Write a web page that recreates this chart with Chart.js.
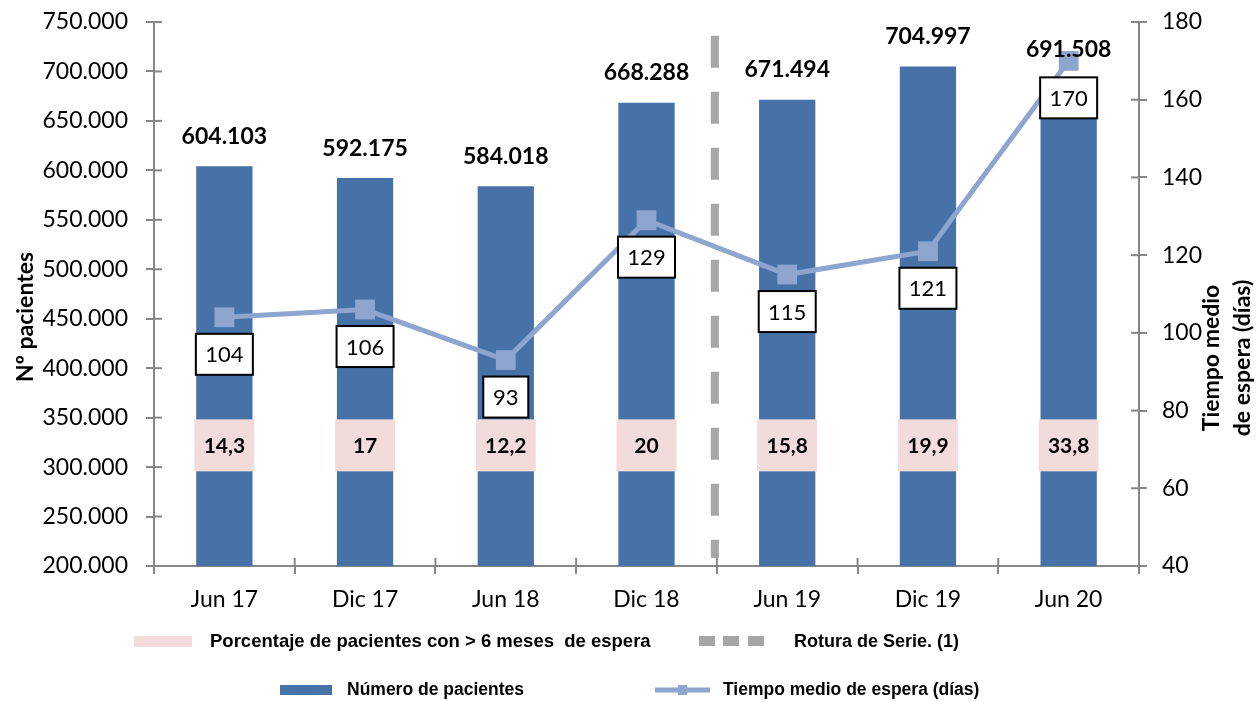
<!DOCTYPE html>
<html><head><meta charset="utf-8">
<script src="https://cdn.jsdelivr.net/npm/chart.js@4.4.1/dist/chart.umd.min.js"></script>
<style>html,body{margin:0;padding:0;background:#fff}#wrap{width:1259px;height:702px;position:relative}</style>
</head><body><div id="wrap"><canvas id="c" width="1259" height="702"></canvas></div>
<script>
// ---- data ----
const categories = ['Jun 17','Dic 17','Jun 18','Dic 18','Jun 19','Dic 19','Jun 20'];
const numeroPacientes = [604103, 592175, 584018, 668288, 671494, 704997, 691508];
const tiempoMedio = [104, 106, 93, 129, 115, 121, 170];
const porcentajeMas6Meses = ['14,3', '17', '12,2', '20', '15,8', '19,9', '33,8'];
const leftAxis = {min: 200000, max: 750000, step: 50000};
const rightAxis = {min: 40, max: 180, step: 20};
const roturaEntre = ['Dic 18', 'Jun 19'];
const legendTexts = {
  pct: 'Porcentaje de pacientes con > 6 meses  de espera',
  rotura: 'Rotura de Serie. (1)',
  num: 'Número de pacientes',
  tiempo: 'Tiempo medio de espera (días)'
};
const titles = {left: 'Nº pacientes', right: ['Tiempo medio', 'de espera (días)']};

// ---- styles ----
const BAR = '#4672A8', LINE = '#8DA5CF', PINK = '#F2DCDB', AXIS = '#868686', DASH = '#A6A6A6';
const FONT = 'Lato';
const fmt = v => String(Math.round(v)).replace(/\B(?=(\d{3})+(?!\d))/g, '.');

Chart.defaults.font.family = FONT;
Chart.defaults.color = '#000';

const overlay = {
  id: 'overlay',
  beforeDatasetsDraw(chart) {
    const {ctx} = chart, x = chart.scales.x, y = chart.scales.y;
    const i0 = categories.indexOf(roturaEntre[0]), i1 = categories.indexOf(roturaEntre[1]);
    const px = (x.getPixelForValue(i0) + x.getPixelForValue(i1)) / 2 - 2;
    ctx.save();
    ctx.strokeStyle = DASH; ctx.lineWidth = 8; ctx.setLineDash([32, 24]);
    ctx.beginPath(); ctx.moveTo(px, y.getPixelForValue(736000)); ctx.lineTo(px, y.getPixelForValue(208000)); ctx.stroke();
    ctx.restore();
  },
  afterDatasetsDraw(chart) {
    const {ctx, chartArea} = chart, x = chart.scales.x, y = chart.scales.y, y1 = chart.scales.y1;
    ctx.save();
    // inner tick halves
    ctx.strokeStyle = AXIS; ctx.lineWidth = 2; ctx.setLineDash([]);
    y.ticks.forEach((t, i) => { const p = y.getPixelForTick(i); ctx.beginPath(); ctx.moveTo(chartArea.left, p); ctx.lineTo(chartArea.left + 8, p); ctx.stroke(); });
    y1.ticks.forEach((t, i) => { const p = y1.getPixelForTick(i); ctx.beginPath(); ctx.moveTo(chartArea.right, p); ctx.lineTo(chartArea.right - 8, p); ctx.stroke(); });
    const bw = (chartArea.right - chartArea.left) / categories.length;
    for (let i = 0; i <= categories.length; i++) {
      const p = chartArea.left + i * bw;
      ctx.beginPath(); ctx.moveTo(p, chartArea.bottom); ctx.lineTo(p, chartArea.bottom - 8); ctx.stroke();
    }
    const barMeta = chart.getDatasetMeta(0), lineMeta = chart.getDatasetMeta(1);
    // percentage boxes
    ctx.textAlign = 'center'; ctx.textBaseline = 'middle';
    barMeta.data.forEach((b, i) => {
      const cy = y.getPixelForValue(322000);
      ctx.fillStyle = PINK; ctx.fillRect(b.x - 30, cy - 26, 60, 52);
      ctx.fillStyle = '#000'; ctx.font = 'bold 21px ' + FONT;
      ctx.fillText(porcentajeMas6Meses[i], b.x, cy + 1);
    });
    // bar value labels
    ctx.font = 'bold 23px ' + FONT;
    barMeta.data.forEach((b, i) => { ctx.fillStyle = '#000'; ctx.fillText(fmt(numeroPacientes[i]), b.x, b.y - 30); });
    // line value boxes
    ctx.font = '22px ' + FONT;
    lineMeta.data.forEach((p, i) => {
      const txt = String(tiempoMedio[i]);
      const w = Math.round(ctx.measureText(txt).width + 19), h = 41, cy = p.y + 37;
      ctx.fillStyle = '#fff'; ctx.fillRect(p.x - w / 2, cy - h / 2, w, h);
      ctx.strokeStyle = '#000'; ctx.lineWidth = 2; ctx.strokeRect(p.x - w / 2, cy - h / 2, w, h);
      ctx.fillStyle = '#000'; ctx.fillText(txt, p.x, cy + 1);
    });
    ctx.restore();
  },
  afterDraw(chart) {
    const {ctx} = chart;
    ctx.save();
    // axis titles
    ctx.fillStyle = '#000'; ctx.textAlign = 'center'; ctx.textBaseline = 'middle';
    ctx.font = 'bold 23px ' + FONT;
    ctx.save(); ctx.translate(26, 317); ctx.rotate(-Math.PI / 2); ctx.fillText(titles.left, 0, 0); ctx.restore();
    ctx.save(); ctx.translate(1212, 358); ctx.rotate(-Math.PI / 2); ctx.fillText(titles.right[0], 0, 0); ctx.restore();
    ctx.save(); ctx.translate(1243, 358); ctx.rotate(-Math.PI / 2); ctx.fillText(titles.right[1], 0, 0); ctx.restore();
    // legend
    ctx.textAlign = 'left';
    const r1 = 642, r2 = 690;
    ctx.font = 'bold 18.5px "Liberation Sans"';
    ctx.fillStyle = PINK; ctx.fillRect(134, r1 - 6, 58, 11);
    ctx.fillStyle = '#000'; ctx.fillText(legendTexts.pct, 210, r1);
    ctx.fillStyle = DASH; [699, 723, 748].forEach(sx => ctx.fillRect(sx, r1 - 6, 16, 10));
    ctx.font = 'bold 18px "Liberation Sans"';
    ctx.fillStyle = '#000'; ctx.fillText(legendTexts.rotura, 794, r1);
    ctx.font = 'bold 17.5px "Liberation Sans"';
    ctx.fillStyle = BAR; ctx.fillRect(280, r2 - 5, 52, 10);
    ctx.fillStyle = '#000'; ctx.fillText(legendTexts.num, 347, r2);
    ctx.strokeStyle = LINE; ctx.lineWidth = 5; ctx.beginPath(); ctx.moveTo(655, r2); ctx.lineTo(710, r2); ctx.stroke();
    ctx.fillStyle = LINE; ctx.fillRect(678, r2 - 5, 9, 10);
    ctx.fillStyle = '#000'; ctx.fillText(legendTexts.tiempo, 723, r2);
    ctx.restore();
  }
};

const fitY = w => s => { s.width = w; s.paddingTop = 0; s.paddingBottom = 0; };

new Chart(document.getElementById('c'), {
  data: {
    labels: categories,
    datasets: [
      {type: 'bar', label: legendTexts.num, data: numeroPacientes, backgroundColor: BAR, yAxisID: 'y', order: 2,
       barPercentage: 0.4, categoryPercentage: 1},
      {type: 'line', label: legendTexts.tiempo, data: tiempoMedio, borderColor: LINE, backgroundColor: LINE,
       borderWidth: 5, pointStyle: 'rect', pointRadius: 14, pointHoverRadius: 14, pointBorderWidth: 0,
       yAxisID: 'y1', order: 1, tension: 0}
    ]
  },
  options: {
    responsive: false, animation: false, devicePixelRatio: 1,
    layout: {padding: {top: 22, left: 0, right: 0, bottom: 0}},
    plugins: {legend: {display: false}, tooltip: {enabled: false}},
    scales: {
      x: {offset: true,
          grid: {offset: true, drawOnChartArea: false, tickLength: 8, color: AXIS, lineWidth: 2},
          border: {color: AXIS, width: 2},
          ticks: {font: {size: 23}, color: '#000', padding: 12},
          afterFit: s => { s.height = 136; s.paddingLeft = 0; s.paddingRight = 0; }},
      y: {position: 'left', min: leftAxis.min, max: leftAxis.max,
          grid: {drawOnChartArea: false, tickLength: 8, color: AXIS, lineWidth: 2},
          border: {color: AXIS, width: 2},
          ticks: {stepSize: leftAxis.step, font: {size: 23}, color: '#000', padding: 18, callback: v => fmt(v)},
          afterFit: fitY(154)},
      y1: {position: 'right', min: rightAxis.min, max: rightAxis.max,
          grid: {drawOnChartArea: false, tickLength: 8, color: AXIS, lineWidth: 2},
          border: {color: AXIS, width: 2},
          ticks: {stepSize: rightAxis.step, font: {size: 23}, color: '#000', padding: 15},
          afterFit: fitY(120)}
    }
  },
  plugins: [overlay]
});
</script></body></html>
